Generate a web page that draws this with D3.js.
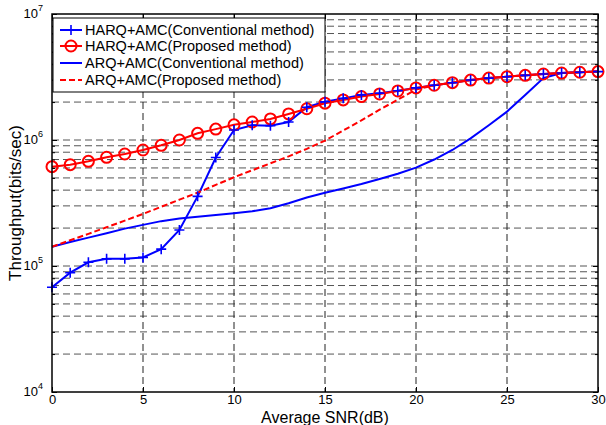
<!DOCTYPE html>
<html>
<head>
<meta charset="utf-8">
<script src="https://cdn.jsdelivr.net/npm/d3@7"></script>
<style>
  body { margin: 0; background: #fff; }
  text { font-family: "Liberation Sans", Arial, sans-serif; }
</style>
</head>
<body>
<div id="chart"></div>
<script>
// values (throughput in bits/sec vs SNR in dB)
const snr = [0,1,2,3,4,5,6,7,8,9,10,11,12,13,14,15,16,17,18,19,20,21,22,23,24,25,26,27,28,29,30];
const harqConv = [6.78e4, 8.85e4, 1.07e5, 1.14e5, 1.14e5, 1.17e5, 1.36e5, 1.93e5, 3.57e5, 7.26e5,
                  1.20e6, 1.31e6, 1.30e6, 1.39e6, 1.82e6, 2.01e6, 2.14e6, 2.28e6, 2.35e6, 2.46e6,
                  2.59e6, 2.72e6, 2.85e6, 2.99e6, 3.10e6, 3.18e6, 3.26e6, 3.34e6, 3.40e6, 3.45e6, 3.49e6];
const harqProp = [6.14e5, 6.37e5, 6.77e5, 7.29e5, 7.74e5, 8.33e5, 9.08e5, 1.00e6, 1.13e6, 1.22e6,
                  1.32e6, 1.39e6, 1.47e6, 1.61e6, 1.77e6, 1.96e6, 2.08e6, 2.21e6, 2.32e6, 2.45e6,
                  2.59e6, 2.72e6, 2.85e6, 2.99e6, 3.10e6, 3.18e6, 3.26e6, 3.34e6, 3.40e6, 3.45e6, 3.49e6];
const arqConv = [1.42e5, 1.55e5, 1.68e5, 1.82e5, 1.98e5, 2.12e5, 2.27e5, 2.38e5, 2.46e5, 2.54e5,
                 2.62e5, 2.72e5, 2.87e5, 3.15e5, 3.50e5, 3.82e5, 4.12e5, 4.47e5, 4.90e5, 5.40e5,
                 6.03e5, 7.00e5, 8.33e5, 1.03e6, 1.31e6, 1.68e6, 2.28e6, 3.10e6, 3.40e6, 3.45e6, 3.49e6];
const arqProp = [1.42e5, 1.60e5, 1.80e5, 2.03e5, 2.29e5, 2.59e5, 2.95e5, 3.36e5, 3.82e5, 4.40e5,
                 5.06e5, 5.75e5, 6.53e5, 7.41e5, 8.51e5, 9.89e5, 1.19e6, 1.43e6, 1.74e6, 2.09e6,
                 2.51e6, 2.72e6, 2.85e6, 2.99e6, 3.10e6, 3.18e6, 3.26e6, 3.34e6, 3.40e6, 3.45e6, 3.49e6];
const xTicks = [0, 5, 10, 15, 20, 25, 30];
const yDecades = [1e4, 1e5, 1e6, 1e7];
const legendNames = ["HARQ+AMC(Conventional method)", "HARQ+AMC(Proposed method)",
                     "ARQ+AMC(Conventional method)", "ARQ+AMC(Proposed method)"];

const W = 606, H = 425;
const margin = { top: 14, right: 8, bottom: 33, left: 52 };
const w = W - margin.left - margin.right;
const h = H - margin.top - margin.bottom;

const svg = d3.select("#chart").append("svg")
    .attr("width", W).attr("height", H);

const g = svg.append("g").attr("transform", `translate(${margin.left},${margin.top})`);

const x = d3.scaleLinear().domain([0, 30]).range([0, w]);
const y = d3.scaleLog().domain([1e4, 1e7]).range([h, 0]);

// minor values 2..9 per decade
const minorVals = [];
[1e4, 1e5, 1e6].forEach(function(d){
  for (let k = 2; k <= 9; k++) minorVals.push(d * k);
});

// grid, dashed like the matlab figure
const grid = g.append("g").attr("class", "grid");
grid.selectAll("line.h")
  .data(minorVals.concat([1e5, 1e6]))
  .join("line")
    .attr("x1", 0).attr("x2", w)
    .attr("y1", d => y(d)).attr("y2", d => y(d))
    .attr("stroke", "#555").attr("stroke-width", 1)
    .attr("stroke-dasharray", "7,4");
grid.selectAll("line.v")
  .data(xTicks.slice(1, -1))
  .join("line")
    .attr("x1", d => x(d)).attr("x2", d => x(d))
    .attr("y1", 0).attr("y2", h)
    .attr("stroke", "#222").attr("stroke-width", 1)
    .attr("stroke-dasharray", "7,4");

// axes with inward ticks
const xBottom = d3.axisBottom(x).tickValues(xTicks).tickSizeInner(-5).tickSizeOuter(0).tickPadding(3);
const gx = g.append("g").attr("transform", `translate(0,${h})`).call(xBottom);
gx.select(".domain").remove();
gx.selectAll("text").attr("font-size", 13).attr("fill", "#000");

const xTop = d3.axisTop(x).tickValues(xTicks).tickSizeInner(-5).tickSizeOuter(0).tickFormat("");
g.append("g").call(xTop).select(".domain").remove();

const yLeft = d3.axisLeft(y).tickValues(minorVals).tickSizeInner(-3).tickSizeOuter(0).tickFormat("");
g.append("g").call(yLeft).select(".domain").remove();
const yRight = d3.axisRight(y).tickValues(minorVals).tickSizeInner(-3).tickSizeOuter(0).tickFormat("");
g.append("g").attr("transform", `translate(${w},0)`).call(yRight).select(".domain").remove();
g.append("g").call(d3.axisLeft(y).tickValues(yDecades).tickSizeInner(-5).tickSizeOuter(0).tickFormat(""))
  .select(".domain").remove();
g.append("g").attr("transform", `translate(${w},0)`)
  .call(d3.axisRight(y).tickValues(yDecades).tickSizeInner(-5).tickSizeOuter(0).tickFormat(""))
  .select(".domain").remove();

// y labels as 10 with superscript
const ylab = g.append("g").selectAll("text")
  .data(yDecades)
  .join("text")
    .attr("x", -9).attr("y", d => y(d) + 4)
    .attr("text-anchor", "end")
    .attr("font-size", 13);
ylab.append("tspan").text("10");
ylab.append("tspan").attr("font-size", 9).attr("dy", -7)
    .text(d => Math.round(Math.log10(d)));

// lines
const line = d3.line().x((d, i) => x(snr[i])).y(d => y(d));

g.append("path").datum(harqConv)
  .attr("fill", "none").attr("stroke", "#0000ff").attr("stroke-width", 2).attr("d", line);
g.append("path").datum(arqConv)
  .attr("fill", "none").attr("stroke", "#0000ff").attr("stroke-width", 2).attr("d", line);
g.append("path").datum(arqProp)
  .attr("fill", "none").attr("stroke", "#ff0000").attr("stroke-width", 2)
  .attr("stroke-dasharray", "6,3").attr("d", line);
g.append("path").datum(harqProp)
  .attr("fill", "none").attr("stroke", "#ff0000").attr("stroke-width", 2).attr("d", line);

g.selectAll("circle.mk")
  .data(harqProp)
  .join("circle")
    .attr("class", "mk")
    .attr("cx", (d, i) => x(snr[i])).attr("cy", d => y(d)).attr("r", 5.5)
    .attr("fill", "none").attr("stroke", "#ff0000").attr("stroke-width", 2);

g.selectAll("path.plus")
  .data(harqConv)
  .join("path")
    .attr("class", "plus")
    .attr("d", (d, i) => {
      const cx = x(snr[i]), cy = y(d);
      return `M${cx - 5},${cy}H${cx + 5}M${cx},${cy - 5}V${cy + 5}`;
    })
    .attr("stroke", "#0000ff").attr("stroke-width", 1.6);

// frame
g.append("rect").attr("width", w).attr("height", h)
  .attr("fill", "none").attr("stroke", "#000").attr("stroke-width", 1.5);

// axis titles
svg.append("text")
  .attr("x", margin.left + w / 2).attr("y", 423)
  .attr("text-anchor", "middle").attr("font-size", 16)
  .text("Average SNR(dB)");
svg.append("text")
  .attr("transform", `translate(21,${margin.top + h / 2}) rotate(-90)`)
  .attr("text-anchor", "middle").attr("font-size", 17)
  .text("Throughput(bits/sec)");

// legend
const leg = g.append("g").attr("transform", "translate(1,4)");
leg.append("rect").attr("width", 272).attr("height", 74)
  .attr("fill", "#fff").attr("stroke", "#000").attr("stroke-width", 1);
const rowY = [12, 28, 45, 62];
const legStyle = [
  { color: "#0000ff", dash: null, marker: "plus" },
  { color: "#ff0000", dash: null, marker: "circle" },
  { color: "#0000ff", dash: null, marker: null },
  { color: "#ff0000", dash: "6,3", marker: null }
];
legendNames.forEach(function(name, i){
  const s = legStyle[i];
  const ly = rowY[i];
  leg.append("line").attr("x1", 7).attr("x2", 29).attr("y1", ly).attr("y2", ly)
    .attr("stroke", s.color).attr("stroke-width", 2)
    .attr("stroke-dasharray", s.dash);
  if (s.marker == "plus") {
    leg.append("path").attr("d", `M13,${ly}H23M18,${ly - 5}V${ly + 5}`)
      .attr("stroke", s.color).attr("stroke-width", 1.6);
  }
  if (s.marker == "circle") {
    leg.append("circle").attr("cx", 18).attr("cy", ly).attr("r", 5.5)
      .attr("fill", "none").attr("stroke", s.color).attr("stroke-width", 2);
  }
  leg.append("text").attr("x", 32).attr("y", ly + 5)
    .attr("font-size", 14.5).text(name);
});
</script>
</body>
</html>
